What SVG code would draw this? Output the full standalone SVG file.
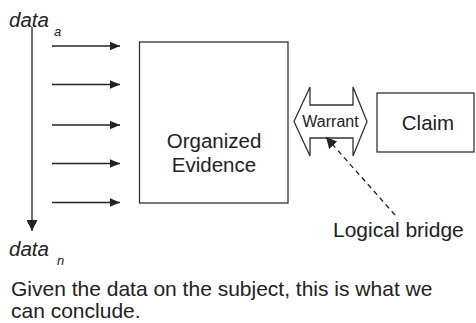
<svg xmlns="http://www.w3.org/2000/svg" width="476" height="323" viewBox="0 0 476 323">
<defs>
<style>
.ln{stroke:#222;stroke-width:1.3;fill:none}
.box{stroke:#333;stroke-width:1.3;fill:#fff}
.t{font-family:"Liberation Sans",Arial,sans-serif;fill:#222}
.it{font-style:italic}
</style>
<marker id="ah" viewBox="0 0 10 10" refX="10" refY="5" markerWidth="10" markerHeight="10" markerUnits="userSpaceOnUse" orient="auto">
<path d="M0,0.8 L10,5 L0,9.2 Z" fill="#222"/>
</marker>
<marker id="ahd" viewBox="0 0 10 10" refX="10" refY="5" markerWidth="11" markerHeight="11" markerUnits="userSpaceOnUse" orient="auto">
<path d="M0,0 L10,5 L0,10 Z" fill="#222"/>
</marker>
</defs>
<rect width="476" height="323" fill="#fff"/>
<g id="data-a">
<text class="t it" x="9" y="27" font-size="20.5">data</text>
<text class="t it" x="54" y="36" font-size="13">a</text>
</g>
<g id="data-n">
<text class="t it" x="9" y="256" font-size="20.5">data</text>
<text class="t it" x="57" y="265" font-size="13">n</text>
</g>
<g id="evidence">
<rect class="box" x="139.5" y="42" width="148.5" height="161"/>
<text class="t" x="214" y="148" font-size="20.5" text-anchor="middle">Organized</text>
<text class="t" x="214" y="172" font-size="20.5" text-anchor="middle">Evidence</text>
</g>
<g id="warrant">
<path class="box" d="M294,121.5 L310,87 L310,105 L353,105 L353,87 L367,121.5 L353,156 L353,138 L310,138 L310,156 Z"/>
<text class="t" x="330.5" y="127" font-size="16" text-anchor="middle">Warrant</text>
</g>
<g id="claim">
<rect class="box" x="377" y="93" width="97" height="59"/>
<text class="t" x="428" y="130" font-size="20.5" text-anchor="middle">Claim</text>
</g>
<g id="bridge-label">
<text class="t" x="333" y="237" font-size="21">Logical bridge</text>
</g>
<g id="caption">
<text class="t" x="11" y="296" font-size="21">Given the data on the subject, this is what we</text>
<text class="t" x="11" y="318" font-size="21">can conclude.</text>
</g>
<g id="connectors">
<line class="ln" x1="32" y1="27" x2="32" y2="231" marker-end="url(#ahd)"/>
<line class="ln" x1="52" y1="46" x2="120" y2="46" marker-end="url(#ah)"/>
<line class="ln" x1="52" y1="84.5" x2="120" y2="84.5" marker-end="url(#ah)"/>
<line class="ln" x1="52" y1="125" x2="120" y2="125" marker-end="url(#ah)"/>
<line class="ln" x1="52" y1="163.5" x2="120" y2="163.5" marker-end="url(#ah)"/>
<line class="ln" x1="52" y1="202.5" x2="120" y2="202.5" marker-end="url(#ah)"/>
<line class="ln" x1="395" y1="215" x2="326" y2="137" stroke-dasharray="5,4" marker-end="url(#ahd)"/>
</g>
</svg>
